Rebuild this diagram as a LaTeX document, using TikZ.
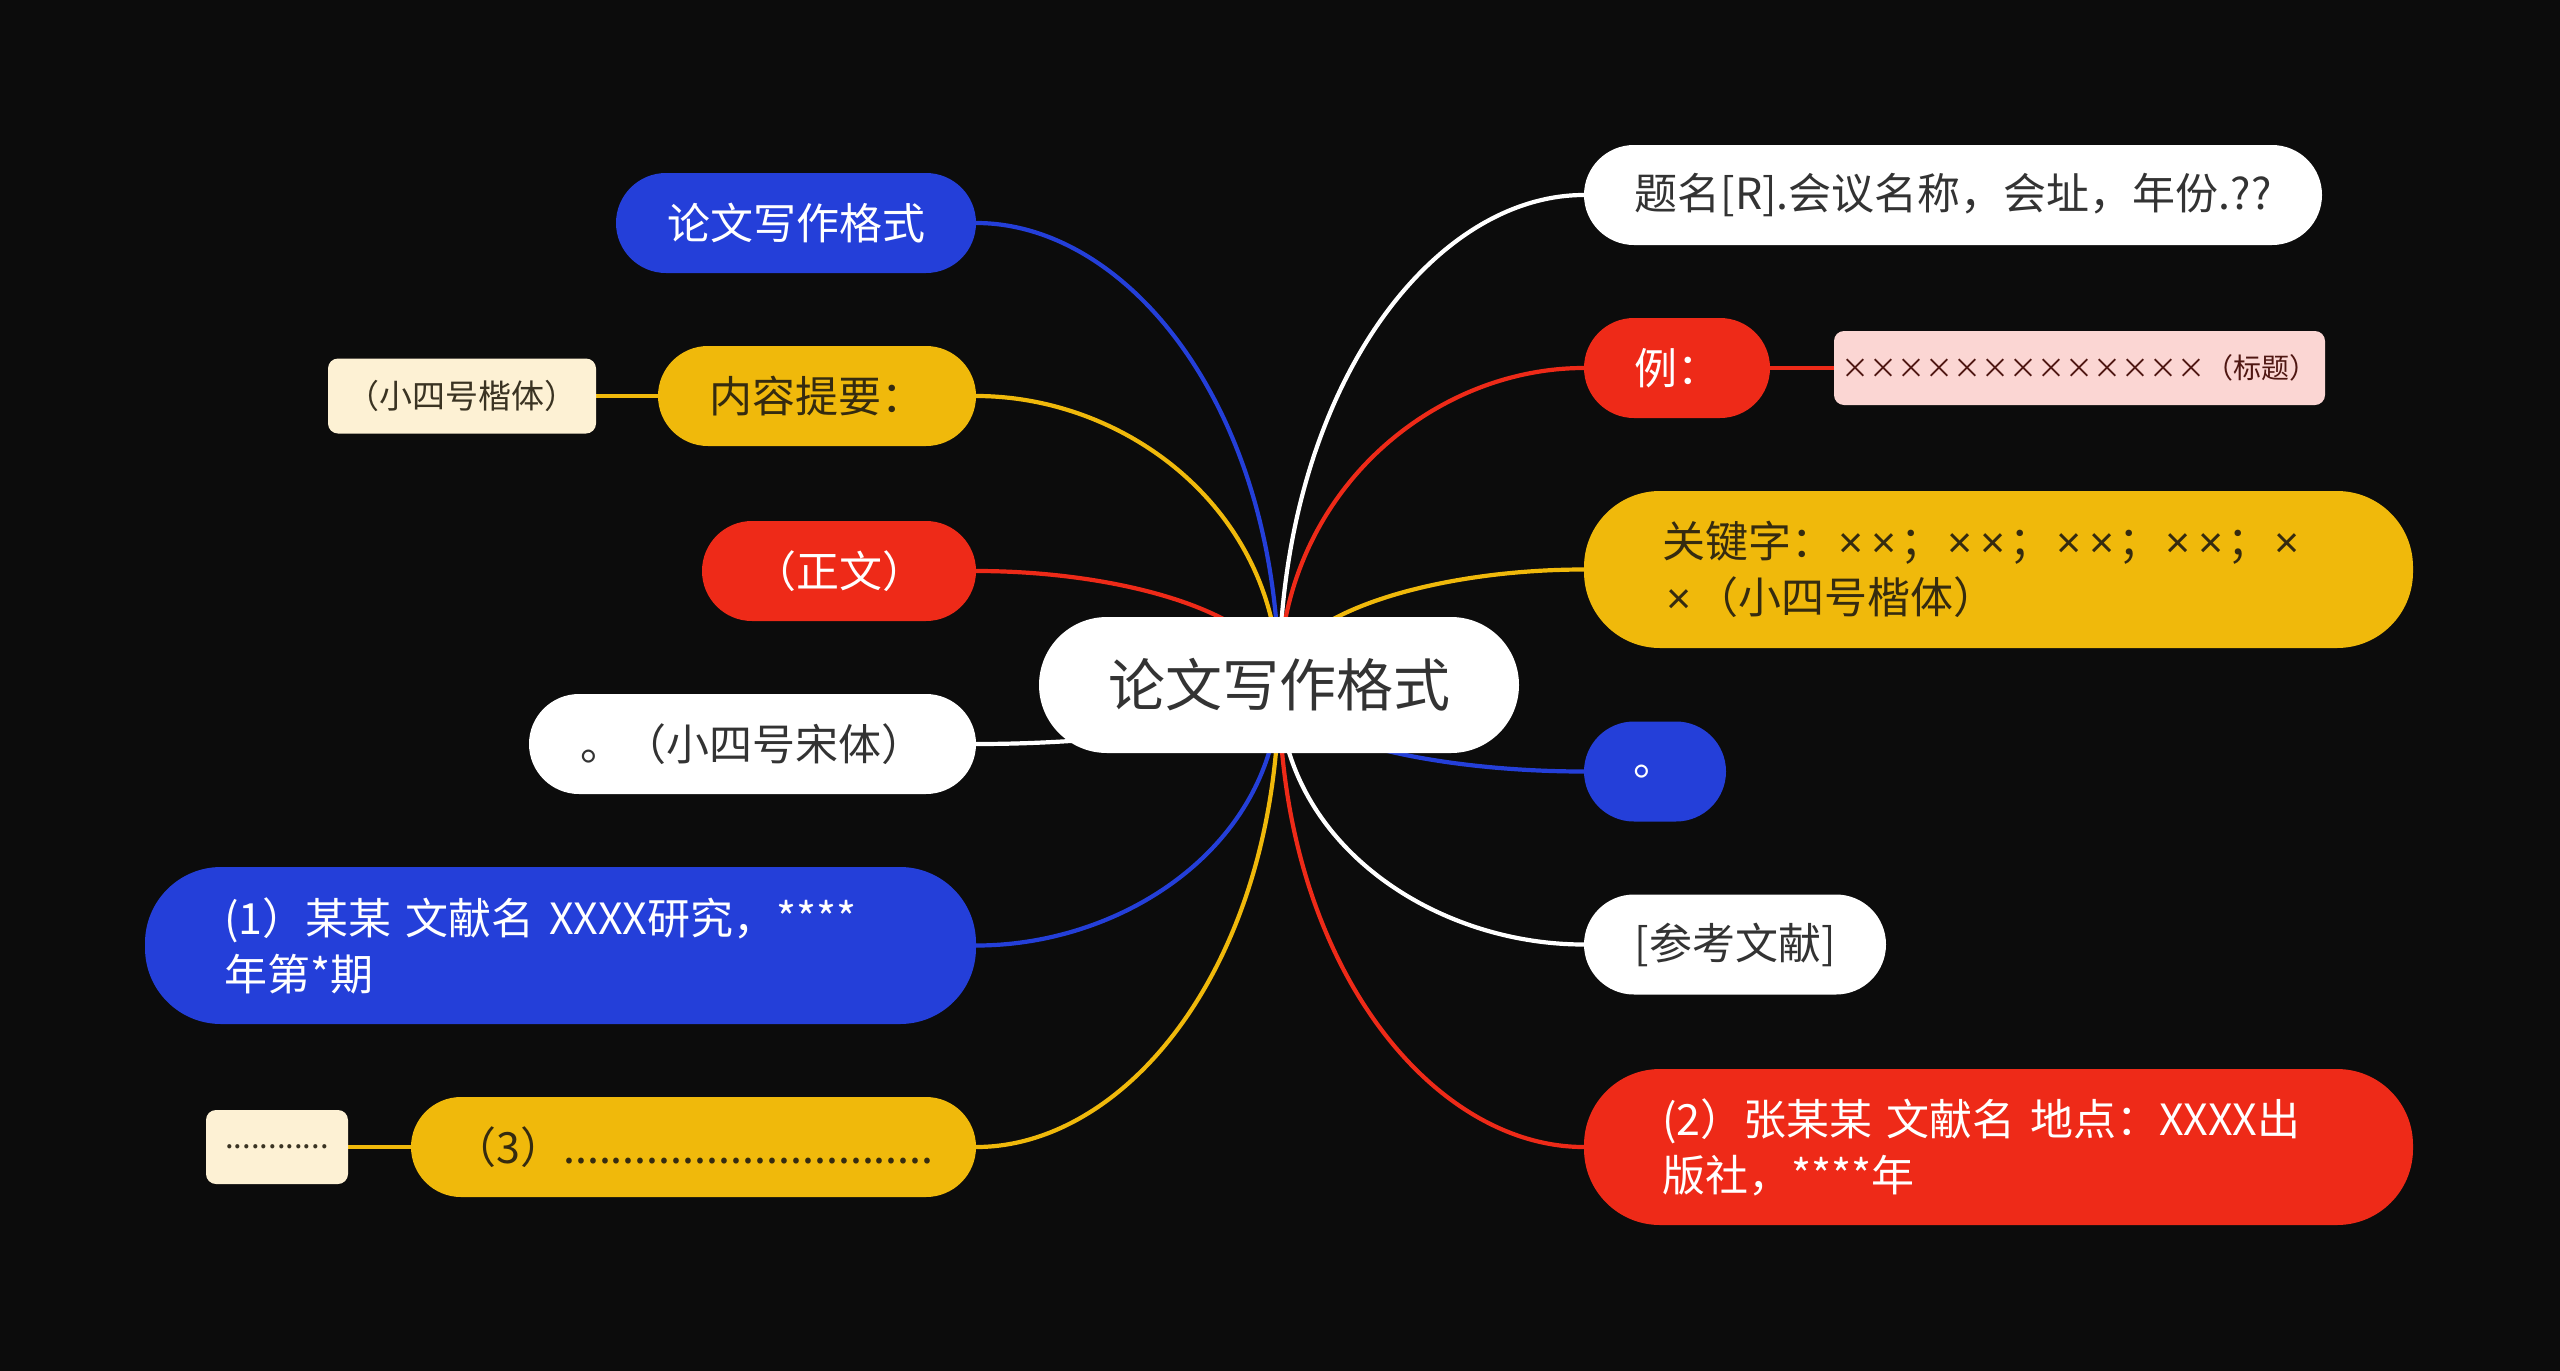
\documentclass[tikz,border=0pt]{standalone}
\usepackage{fontspec}
\setmainfont{Noto Sans CJK SC}
\newfontfamily\latinf{Liberation Sans}
\usetikzlibrary{calc,backgrounds}
\definecolor{bgc}{HTML}{0C0C0C}
\definecolor{mblue}{HTML}{243FD9}
\definecolor{myellow}{HTML}{F0B90B}
\definecolor{mred}{HTML}{EE2A18}
\definecolor{mcream}{HTML}{FDF1D4}
\definecolor{mpink}{HTML}{FBD6D3}
\definecolor{dtext}{HTML}{333333}
\definecolor{ytext}{HTML}{352B10}
\definecolor{ctext}{HTML}{3A3322}
\definecolor{ptext}{HTML}{4F1712}
\newcommand\kx{\makebox[0.77em]{\latinf ×}}
\tikzset{
  box/.style={inner sep=0pt, font=\fontsize{43}{56}\selectfont},
  pill/.style={box, rounded corners=50, minimum height=100},
  tall/.style={box, rounded corners=76, minimum height=157, text width=673, align=left},
  small/.style={inner sep=0pt, rounded corners=10, font=\fontsize{33}{40}\selectfont},
  conn/.style={draw=#1, line width=4.2},
}
\newcommand\mmlink[2]{\draw[conn=#2] (#1) .. controls ($(#1)!0.5!(c.center |- #1)$) and ($(c.center)!0.6!(c.center |- #1)$) .. (c.center);}
\begin{document}
\begin{tikzpicture}[x=1pt,y=-1pt]
\useasboundingbox (0,0) rectangle (2560,1371);
% center
\node[box, fill=white, text=dtext, minimum width=480, minimum height=136, rounded corners=68, font=\fontsize{57}{68}\selectfont] (c) at (1279,685) {论文写作格式};
% left side
\node[pill, fill=mblue, text=white, minimum width=360] (l1) at (796,223) {论文写作格式};
\node[pill, fill=myellow, text=ytext, minimum width=318] (l2) at (817,396) {内容提要：};
\node[small, fill=mcream, text=ctext, minimum width=268, minimum height=75] (l2a) at (462,396) {（小四号楷体）};
\node[pill, fill=mred, text=white, minimum width=274] (l3) at (839,571) {（正文）};
\node[pill, fill=white, text=dtext, minimum width=447] (l4) at (752.5,744) {。（小四号宋体）};
\node[tall, fill=mblue, text=white, minimum width=831] (l5) at (560.5,945.5) {\mbox{(1）某某 文献名 XXXX研究，****}\\年第*期};
\node[pill, fill=myellow, text=ytext, minimum width=565] (l6) at (693.5,1147) {（3）...............................};
\node[small, fill=mcream, text=ctext, minimum width=142, minimum height=74, font=\fontsize{31}{40}\selectfont] (l6a) at (277,1147) {............};
% right side
\node[pill, fill=white, text=dtext, minimum width=738] (r1) at (1953,195) {题名[R].会议名称，会址，年份.??};
\node[pill, fill=mred, text=white, minimum width=186] (r2) at (1677,368) {例：};
\node[small, fill=mpink, text=ptext, minimum width=491, minimum height=74, font=\fontsize{28}{36}\selectfont] (r2a) at (2079.5,368) {×××××××××××××（标题）};
\node[tall, fill=myellow, text=ytext, minimum width=829] (r3) at (1998.5,569.5) {\mbox{关键字：\kx\kx；\kx\kx；\kx\kx；\kx\kx；\kx}\\\kx（小四号楷体）};
\node[pill, fill=mblue, text=white, minimum width=142] (r4) at (1655,771.5) {。};
\node[pill, fill=white, text=dtext, minimum width=302] (r5) at (1735,944.5) {[参考文献]};
\node[tall, fill=mred, text=white, minimum width=829, minimum height=156] (r6) at (1998.5,1147) {\mbox{(2）张某某 文献名 地点：XXXX出}\\版社，****年};
% connectors
\begin{scope}[on background layer]
\fill[bgc] (0,0) rectangle (2560,1371);
\mmlink{l1.east}{mblue}
\mmlink{l2.east}{myellow}
\mmlink{l3.east}{mred}
\mmlink{l4.east}{white}
\mmlink{l5.east}{mblue}
\mmlink{l6.east}{myellow}
\mmlink{r1.west}{white}
\mmlink{r2.west}{mred}
\mmlink{r3.west}{myellow}
\mmlink{r4.west}{mblue}
\mmlink{r5.west}{white}
\mmlink{r6.west}{mred}
\draw[conn=myellow] (l2.west) -- (l2a.east);
\draw[conn=mred] (r2.east) -- (r2a.west);
\draw[conn=myellow] (l6.west) -- (l6a.east);
\end{scope}
\end{tikzpicture}
\end{document}
